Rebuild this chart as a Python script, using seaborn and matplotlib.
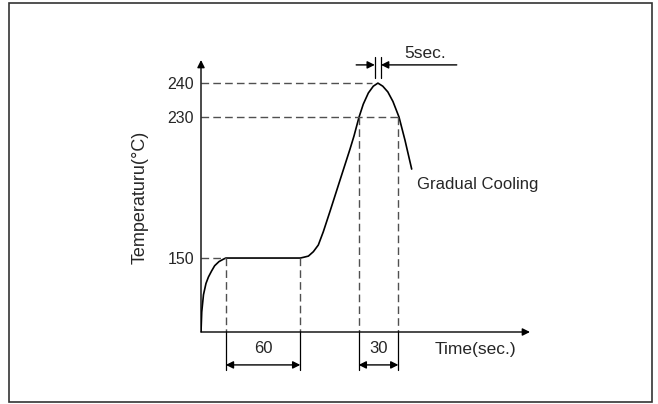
import numpy as np
import pandas as pd
import matplotlib
matplotlib.use("Agg")
import matplotlib.pyplot as plt
from matplotlib.patches import Rectangle
import seaborn as sns

# Reflow profile (schematic)
time_s = [0, 0.6, 2, 4, 6, 8.5, 11, 14.5, 18, 20, 80, 82.5, 86.5, 90.5, 94.5,
          98.5, 104, 112, 120, 123.2, 127.3, 130.7, 134.8, 138.8, 142.5, 146.4,
          150.5, 154.6, 159.5, 164.3, 169.7]
temp_c = [25, 59, 88, 107, 118, 128, 137, 144, 148, 150, 150, 150.4, 151.1,
          153.6, 157.4, 164.9, 176.7, 194.3, 211.8, 219.2, 230, 233.8, 237.1,
          239.1, 240, 239.1, 237.4, 234.6, 230, 216.9, 200.5]

temp_ticks = [150, 230, 240]
temp_labels = ["150", "230", "240"]

preheat = (20, 80)       # 60 sec window at 150
above_230 = (127, 159)   # 30 sec window above 230
peak_window = (140, 145)  # 5 sec at peak
peak_guide_end = 138
dim_labels = ["60", "30", "5sec."]

# the drawing is not to scale: temperature axis is piecewise linear
scale_temp = [-50, 25, 150, 230, 240, 260]
scale_pos = [-44.4, 0, 74, 215, 249, 317]


def fwd(t):
    return np.interp(t, scale_temp, scale_pos)


def inv(p):
    return np.interp(p, scale_pos, scale_temp)


sns.set_style("white")
plt.rcParams['font.family'] = ['Liberation Sans', 'DejaVu Sans']

fig = plt.figure(figsize=(6.58, 4.04), dpi=100)
ax = fig.add_axes([201 / 658, 72 / 404, 329 / 658, 272 / 404])
ax.set_yscale('function', functions=(fwd, inv))
ax.set_xlim(0, 265)
ax.set_ylim(25, 246.8)
for s in ax.spines.values():
    s.set_visible(False)

df = pd.DataFrame({"time": time_s, "temp": temp_c})
sns.lineplot(data=df, x="time", y="temp", sort=False, estimator=None,
             color="black", lw=1.2, ax=ax)
ax.set_xlabel("")
ax.set_ylabel("")

# axes with arrows
arrow = dict(arrowstyle='-|>', color='black', lw=1, mutation_scale=11,
             shrinkA=0, shrinkB=0)
ax.annotate("", xy=(1, 0), xytext=(0, 0), xycoords='axes fraction', arrowprops=arrow)
ax.annotate("", xy=(0, 1), xytext=(0, 0), xycoords='axes fraction', arrowprops=arrow)

ax.set_xticks([])
ax.set_yticks(temp_ticks)
ax.set_yticklabels(temp_labels, fontsize=11.5)
ax.tick_params(axis='y', length=0, pad=5)

dash = dict(color='#505050', lw=1, ls=(0, (5.5, 3)))
# horizontal guides
ax.plot([0, preheat[0]], [150, 150], **dash)
ax.plot([0, above_230[1]], [230, 230], **dash)
ax.plot([0, peak_guide_end], [240, 240], **dash)
# vertical guides down to the time axis
for t, level in [(preheat[0], 150), (preheat[1], 150),
                 (above_230[0], 230), (above_230[1], 230)]:
    ax.plot([t, t], [level, 25], **dash)

# dimension lines under the time axis
xt = ax.get_xaxis_transform()
dim = dict(arrowstyle='<|-|>', color='black', lw=1, mutation_scale=11,
           shrinkA=0, shrinkB=0)
for (a, b), lab in zip([preheat, above_230], dim_labels[:2]):
    for t in (a, b):
        ax.plot([t, t], [0, -0.14], transform=xt, color='black', lw=0.9,
                clip_on=False)
    ax.annotate("", xy=(b, -0.121), xytext=(a, -0.121), xycoords=xt,
                arrowprops=dim, annotation_clip=False)
    ax.text((a + b) / 2, -0.062, lab, transform=xt, ha='center', va='center',
            fontsize=12)

ax.text(188, -0.064, "Time(sec.)", transform=xt, ha='left', va='center',
        fontsize=12.5)
ax.text(-0.185, 0.496, "Temperaturu(°C)", transform=ax.transAxes, rotation=90,
        ha='center', va='center', fontsize=13)
ax.text(174, 192, "Gradual Cooling", ha='left', va='center', fontsize=12)

# 5 sec at peak
for t in peak_window:
    ax.plot([t, t], [0.934, 1.011], transform=xt, color='black', lw=0.9,
            clip_on=False)
one = dict(arrowstyle='-|>', color='black', lw=1, mutation_scale=11,
           shrinkA=0, shrinkB=0)
ax.annotate("", xy=(peak_window[0], 0.982), xytext=(125, 0.982), xycoords=xt,
            arrowprops=one, annotation_clip=False)
ax.annotate("", xy=(peak_window[1], 0.982), xytext=(206, 0.982), xycoords=xt,
            arrowprops=one, annotation_clip=False)
ax.text(164, 1.025, dim_labels[2], transform=xt, ha='left', va='center',
        fontsize=12.5)

fig.patches.append(Rectangle((9 / 658, 2 / 404), 643 / 658, 399 / 404,
                             transform=fig.transFigure, fill=False,
                             edgecolor='#333333', lw=1.2))

fig.savefig("out.png", dpi=100)
